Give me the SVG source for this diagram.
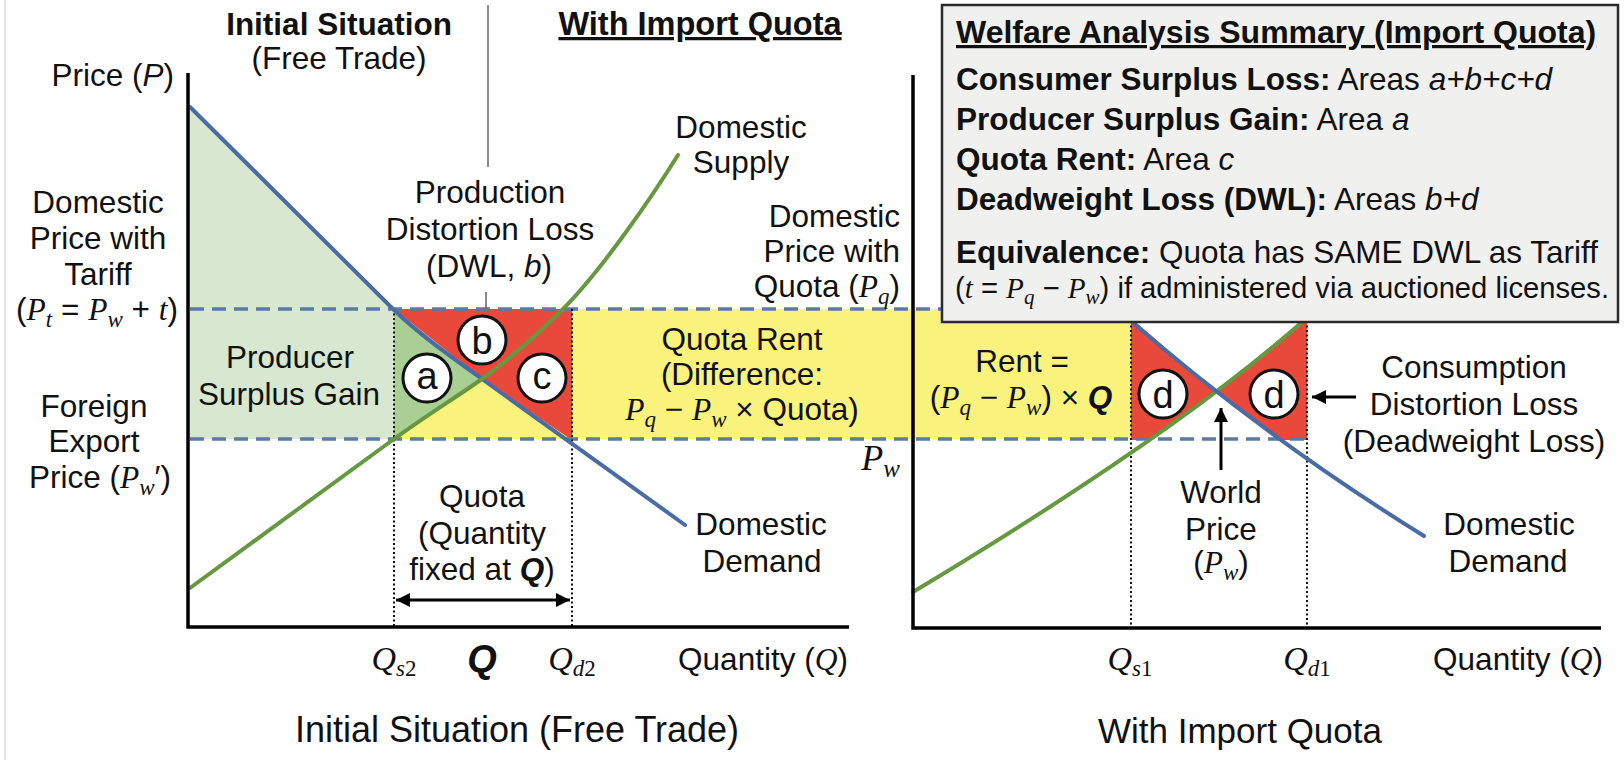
<svg xmlns="http://www.w3.org/2000/svg" width="1624" height="760" viewBox="0 0 1624 760">
<defs>
<style>
text{font-family:"Liberation Sans",Arial,sans-serif;fill:#111;font-size:31.5px;}
.c{text-anchor:middle;}
.e{text-anchor:end;}
.b{font-weight:bold;}
.i{font-style:italic;}
.m{font-family:"Liberation Serif","Times New Roman",serif;font-style:italic;}
.ax{stroke:#000;stroke-width:3.5;fill:none;}
.dash{stroke:#5b7ba4;stroke-width:3.5;stroke-dasharray:14 8;fill:none;}
.dot{stroke:#111;stroke-width:2;stroke-dasharray:2 2.5;fill:none;}
.dem{stroke:#4a6ca6;stroke-width:4;fill:none;stroke-linecap:round;}
.sup{stroke:#66993f;stroke-width:4;fill:none;stroke-linecap:round;}
.circ{fill:#fff;stroke:#111;stroke-width:3;}
.cl{font-size:38px;text-anchor:middle;}
.arr{stroke:#000;stroke-width:3;fill:none;}
.red{fill:#e9493b;}
.yel{fill:#f9f27c;}
</style>
<marker id="ah" viewBox="0 0 10 10" refX="10" refY="5" markerWidth="16" markerHeight="14" markerUnits="userSpaceOnUse" orient="auto-start-reverse"><path d="M0,0 L10,5 L0,10 z" fill="#000"/></marker>
</defs>
<rect x="0" y="0" width="1624" height="760" fill="#fff"/>
<line x1="5" y1="0" x2="5" y2="760" stroke="#e4e4e4" stroke-width="2"/>

<g id="areas">
<path d="M188,107 L393,309 L394,309 L394,439 L188,439 Z" fill="#d7e7d0"/>
<path d="M394,309 L482,379 L394,439 Z" fill="#a9cf95"/>
<path class="red" d="M394,309 L572,309 L572,439 L570,439 L482,379 Z"/>
<path class="yel" d="M482,379 L570,439 L394,439 Z"/>
<path class="yel" d="M572,309 H1131 V439 H572 Z"/>
<path class="red" d="M1131,318 L1217,392 L1151,440 L1131,440 Z"/>
<path class="red" d="M1217,392 L1307,316 L1307,440 L1281,440 Z"/>
</g>

<g id="connectors">
<path class="dash" d="M190,309 H1307"/>
<path class="dash" d="M190,439 H1307"/>
<path class="dot" d="M394,309 V627"/>
<path class="dot" d="M572,309 V627"/>
<path class="dot" d="M1131,312 V628"/>
<path class="dot" d="M1307,312 V628"/>
<path class="dem" d="M190,107 L393,309 C420,335 450,356 482,379 S620,478 685,525"/>
<path class="sup" d="M190,588 L394,439 C430,413 455,398 482,379 C515,355 545,327 563,309 C600,272 650,200 678,155"/>
<path class="sup" d="M913,592 Q1180.7,431.4 1310,315"/>
<path class="dem" d="M1125,316 Q1263.4,436.4 1424,536"/>
<path class="ax" d="M188,73 V627 H849"/>
<path class="ax" d="M913,75 V628 H1601"/>
<path d="M488,5 V167" stroke="#666" stroke-width="1.5"/>
<path d="M486,292 V309" stroke="#666" stroke-width="1.5"/>
<line class="arr" x1="396" y1="600" x2="570" y2="600" marker-start="url(#ah)" marker-end="url(#ah)"/>
<line class="arr" x1="1221" y1="470" x2="1221" y2="408" marker-end="url(#ah)"/>
<line class="arr" x1="1356" y1="397" x2="1312" y2="397" marker-end="url(#ah)"/>
</g>

<g id="circle-a"><circle class="circ" cx="427" cy="378" r="24"/><text class="cl" x="427" y="389">a</text></g>
<g id="circle-b"><circle class="circ" cx="482" cy="340" r="24"/><text class="cl" x="482" y="354">b</text></g>
<g id="circle-c"><circle class="circ" cx="542" cy="378" r="24"/><text class="cl" x="542" y="389">c</text></g>
<g id="circle-d1"><circle class="circ" cx="1163" cy="394" r="24"/><text class="cl" x="1163" y="408">d</text></g>
<g id="circle-d2"><circle class="circ" cx="1274" cy="394" r="24"/><text class="cl" x="1274" y="408">d</text></g>

<g id="left-labels">
<text class="c b" x="339" y="35">Initial Situation</text>
<text class="c" x="339" y="69">(Free Trade)</text>
<text class="c b" x="700" y="35" style="font-size:32.5px" text-decoration="underline">With Import Quota</text>
<text class="e" x="174" y="86">Price (<tspan class="i">P</tspan>)</text>
<text class="c" x="98" y="213">Domestic</text>
<text class="c" x="98" y="249">Price with</text>
<text class="c" x="98" y="285">Tariff</text>
<text class="c" x="97" y="320">(<tspan class="m">P</tspan><tspan class="m" font-size="23" dy="7">t</tspan><tspan dy="-7"> = </tspan><tspan class="m">P</tspan><tspan class="m" font-size="23" dy="7">w</tspan><tspan dy="-7"> + </tspan><tspan class="m">t</tspan>)</text>
<text class="c" x="94" y="417">Foreign</text>
<text class="c" x="94" y="452">Export</text>
<text class="c" x="100" y="488">Price (<tspan class="m">P</tspan><tspan class="m" font-size="23" dy="7">w</tspan><tspan dy="-7">′)</tspan></text>
<text class="c" x="290" y="368">Producer</text>
<text class="c" x="289" y="405">Surplus Gain</text>
<text class="c" x="490" y="203">Production</text>
<text class="c" x="490" y="240">Distortion Loss</text>
<text class="c" x="489" y="277">(DWL, <tspan class="i">b</tspan>)</text>
<text class="c" x="741" y="138">Domestic</text>
<text class="c" x="741" y="173">Supply</text>
<text class="e" x="900" y="227">Domestic</text>
<text class="e" x="900" y="262">Price with</text>
<text class="e" x="900" y="297">Quota (<tspan class="m">P</tspan><tspan class="m" font-size="23" dy="7">q</tspan><tspan dy="-7">)</tspan></text>
<text class="c" x="742" y="350">Quota Rent</text>
<text class="c" x="742" y="385">(Difference:</text>
<text class="c" x="742" y="420"><tspan class="m">P</tspan><tspan class="m" font-size="23" dy="7">q</tspan><tspan dy="-7"> − </tspan><tspan class="m">P</tspan><tspan class="m" font-size="23" dy="7">w</tspan><tspan dy="-7"> × Quota)</tspan></text>
<text class="e" x="900" y="470"><tspan class="m" font-size="36">P</tspan><tspan class="m" font-size="25" dy="7">w</tspan></text>
<text class="c" x="761" y="535">Domestic</text>
<text class="c" x="762" y="572">Demand</text>
<text class="c" x="482" y="507">Quota</text>
<text class="c" x="482" y="544">(Quantity</text>
<text class="c" x="482" y="580">fixed at <tspan class="b i">Q</tspan>)</text>
<text class="c" x="394" y="670"><tspan class="m" font-size="34">Q</tspan><tspan class="m" font-size="23" dy="6">s</tspan><tspan font-family="Liberation Serif" font-size="23">2</tspan></text>
<text class="c b i" x="482" y="672" style="font-size:38px">Q</text>
<text class="c" x="572" y="670"><tspan class="m" font-size="34">Q</tspan><tspan class="m" font-size="23" dy="6">d</tspan><tspan font-family="Liberation Serif" font-size="23">2</tspan></text>
<text class="c" x="763" y="670">Quantity (<tspan class="m">Q</tspan>)</text>
<text class="c" x="517" y="742" style="font-size:36px">Initial Situation (Free Trade)</text>
</g>

<g id="right-labels">
<text class="c" x="1022" y="372">Rent =</text>
<text class="c" x="1021" y="408">(<tspan class="m">P</tspan><tspan class="m" font-size="23" dy="7">q</tspan><tspan dy="-7"> − </tspan><tspan class="m">P</tspan><tspan class="m" font-size="23" dy="7">w</tspan><tspan dy="-7">) × </tspan><tspan class="b i">Q</tspan></text>
<text class="c" x="1221" y="503">World</text>
<text class="c" x="1221" y="540">Price</text>
<text class="c" x="1221" y="573">(<tspan class="m">P</tspan><tspan class="m" font-size="23" dy="7">w</tspan><tspan dy="-7">)</tspan></text>
<text class="c" x="1474" y="378">Consumption</text>
<text class="c" x="1474" y="415">Distortion Loss</text>
<text class="c" x="1474" y="452">(Deadweight Loss)</text>
<text class="c" x="1509" y="535">Domestic</text>
<text class="c" x="1508" y="572">Demand</text>
<text class="c" x="1130" y="670"><tspan class="m" font-size="34">Q</tspan><tspan class="m" font-size="23" dy="6">s</tspan><tspan font-family="Liberation Serif" font-size="23">1</tspan></text>
<text class="c" x="1307" y="670"><tspan class="m" font-size="34">Q</tspan><tspan class="m" font-size="23" dy="6">d</tspan><tspan font-family="Liberation Serif" font-size="23">1</tspan></text>
<text class="c" x="1518" y="670">Quantity (<tspan class="m">Q</tspan>)</text>
<text class="c" x="1240" y="743" style="font-size:35px">With Import Quota</text>
</g>

<g id="summary-box">
<rect x="942" y="5" width="676" height="317" fill="#f0f0ef" stroke="#2a2a2a" stroke-width="2.5"/>
<text x="956" y="43" class="b" style="font-size:32px" text-decoration="underline">Welfare Analysis Summary (Import Quota)</text>
<text x="956" y="90"><tspan class="b">Consumer Surplus Loss:</tspan> Areas <tspan class="i">a+b+c+d</tspan></text>
<text x="956" y="130"><tspan class="b">Producer Surplus Gain:</tspan> Area <tspan class="i">a</tspan></text>
<text x="956" y="170"><tspan class="b">Quota Rent:</tspan> Area <tspan class="i">c</tspan></text>
<text x="956" y="210"><tspan class="b">Deadweight Loss (DWL):</tspan> Areas <tspan class="i">b+d</tspan></text>
<text x="956" y="263"><tspan class="b">Equivalence:</tspan> Quota has SAME DWL as Tariff</text>
<text x="955" y="298" style="font-size:29.2px">(<tspan class="m">t</tspan> = <tspan class="m">P</tspan><tspan class="m" font-size="21" dy="6">q</tspan><tspan dy="-6"> − </tspan><tspan class="m">P</tspan><tspan class="m" font-size="21" dy="6">w</tspan><tspan dy="-6">) if administered via auctioned licenses.</tspan></text>
</g>
</svg>
